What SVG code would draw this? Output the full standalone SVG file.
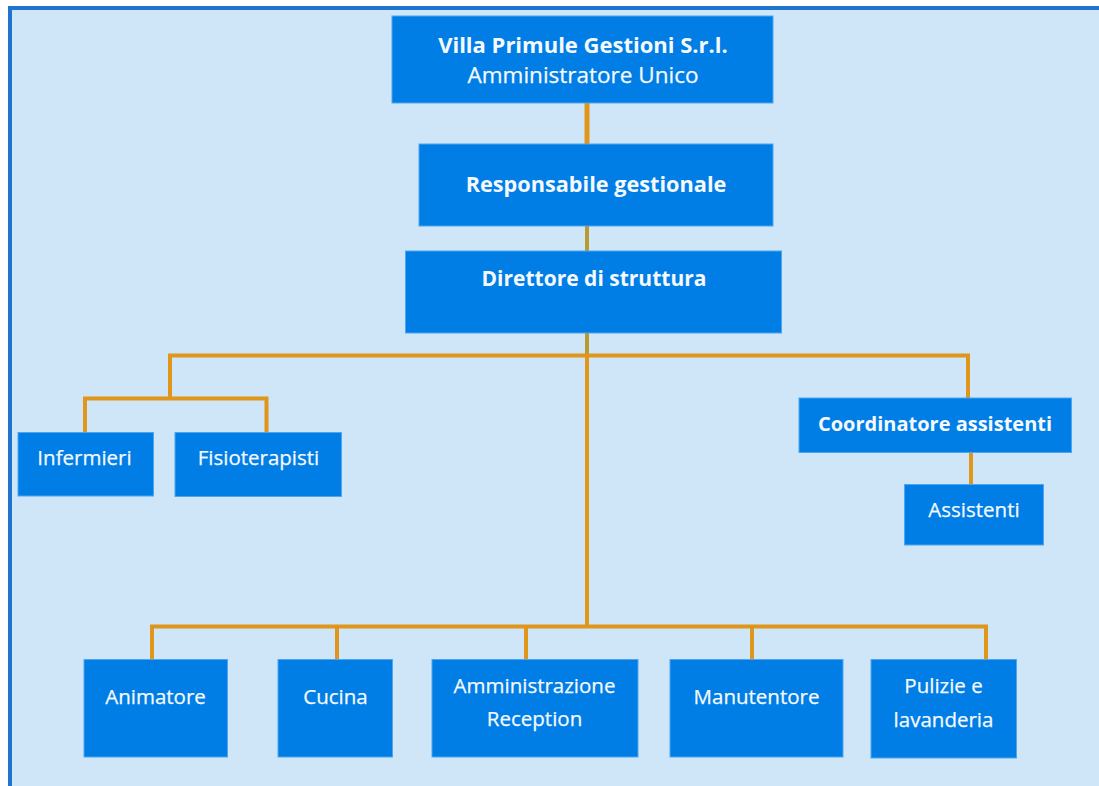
<svg xmlns="http://www.w3.org/2000/svg" width="1099" height="786" viewBox="0 0 1099 786">
<style>
.box{fill:#007ee6;stroke:#4fa6ee;stroke-width:1}
.t{font-family:"Open Sans","Noto Sans","Liberation Sans",sans-serif;font-size:20.5px;fill:#f5f9fd;text-anchor:middle;stroke:#f5f9fd;stroke-width:0.25}
.b{font-weight:bold;font-size:21px;stroke-width:0}
.c{fill:none;stroke:#e0961a;stroke-width:4;stroke-linecap:square;stroke-linejoin:miter}
.o{stroke:#b89a30}
</style>
<rect x="10" y="8" width="1100" height="800" fill="#cfe6f8" stroke="#1e74cf" stroke-width="4"/>
<g id="connectors">
<line class="c" x1="587" y1="104" x2="587" y2="143" style="stroke-width:5"/>
<line class="c o" x1="587" y1="227" x2="587" y2="250"/>
<line class="c o" x1="587" y1="334" x2="587" y2="354"/>
<line class="c" x1="587" y1="358" x2="587" y2="626"/>
<polyline class="c" points="170,398 170,355.5 968,355.5 968,397"/>
<polyline class="c" points="85,431 85,398.5 266.5,398.5 266.5,431"/>
<line class="c" x1="971" y1="454" x2="971" y2="484"/>
<polyline class="c" points="152,658 152,626.5 986,626.5 986,658"/>
<line class="c" x1="337" y1="627" x2="337" y2="658"/>
<line class="c" x1="526" y1="627" x2="526" y2="658"/>
<line class="c" x1="752" y1="627" x2="752" y2="658"/>
</g>
<g id="n-villa">
<rect class="box" x="392" y="16" width="381" height="87"/>
<text class="t b" x="583" y="53" style="font-size:22px">Villa Primule Gestioni S.r.l.</text>
<text class="t" x="583" y="83" style="font-size:22.5px">Amministratore Unico</text>
</g>
<g id="n-responsabile">
<rect class="box" x="419" y="144" width="354" height="82"/>
<text class="t b" x="596" y="192" style="font-size:21.7px">Responsabile gestionale</text>
</g>
<g id="n-direttore">
<rect class="box" x="405.5" y="251" width="376" height="82"/>
<text class="t b" x="594" y="286">Direttore di struttura</text>
</g>
<g id="n-infermieri">
<rect class="box" x="18" y="432.5" width="135.5" height="63.5"/>
<text class="t" x="84.5" y="465">Infermieri</text>
</g>
<g id="n-fisioterapisti">
<rect class="box" x="175" y="432.5" width="166.5" height="64"/>
<text class="t" x="258.5" y="465">Fisioterapisti</text>
</g>
<g id="n-coordinatore">
<rect class="box" x="799" y="398" width="272.5" height="54.5"/>
<text class="t b" x="935" y="430.5" style="font-size:20px">Coordinatore assistenti</text>
</g>
<g id="n-assistenti">
<rect class="box" x="904.5" y="484.5" width="139" height="60.5"/>
<text class="t" x="974" y="517">Assistenti</text>
</g>
<g id="n-animatore">
<rect class="box" x="84" y="659.5" width="143.5" height="97.5"/>
<text class="t" x="155.5" y="704">Animatore</text>
</g>
<g id="n-cucina">
<rect class="box" x="278" y="659.5" width="114.5" height="97.5"/>
<text class="t" x="335.5" y="704">Cucina</text>
</g>
<g id="n-amministrazione">
<rect class="box" x="432" y="659.5" width="206" height="97.5"/>
<text class="t" x="534.5" y="692.5">Amministrazione</text>
<text class="t" x="534.5" y="726">Reception</text>
</g>
<g id="n-manutentore">
<rect class="box" x="670" y="659.5" width="173" height="97.5"/>
<text class="t" x="756.5" y="704">Manutentore</text>
</g>
<g id="n-pulizie">
<rect class="box" x="871" y="659.5" width="145.5" height="98.5"/>
<text class="t" x="943.5" y="692.5">Pulizie e</text>
<text class="t" x="943.5" y="726.5">lavanderia</text>
</g>
</svg>
